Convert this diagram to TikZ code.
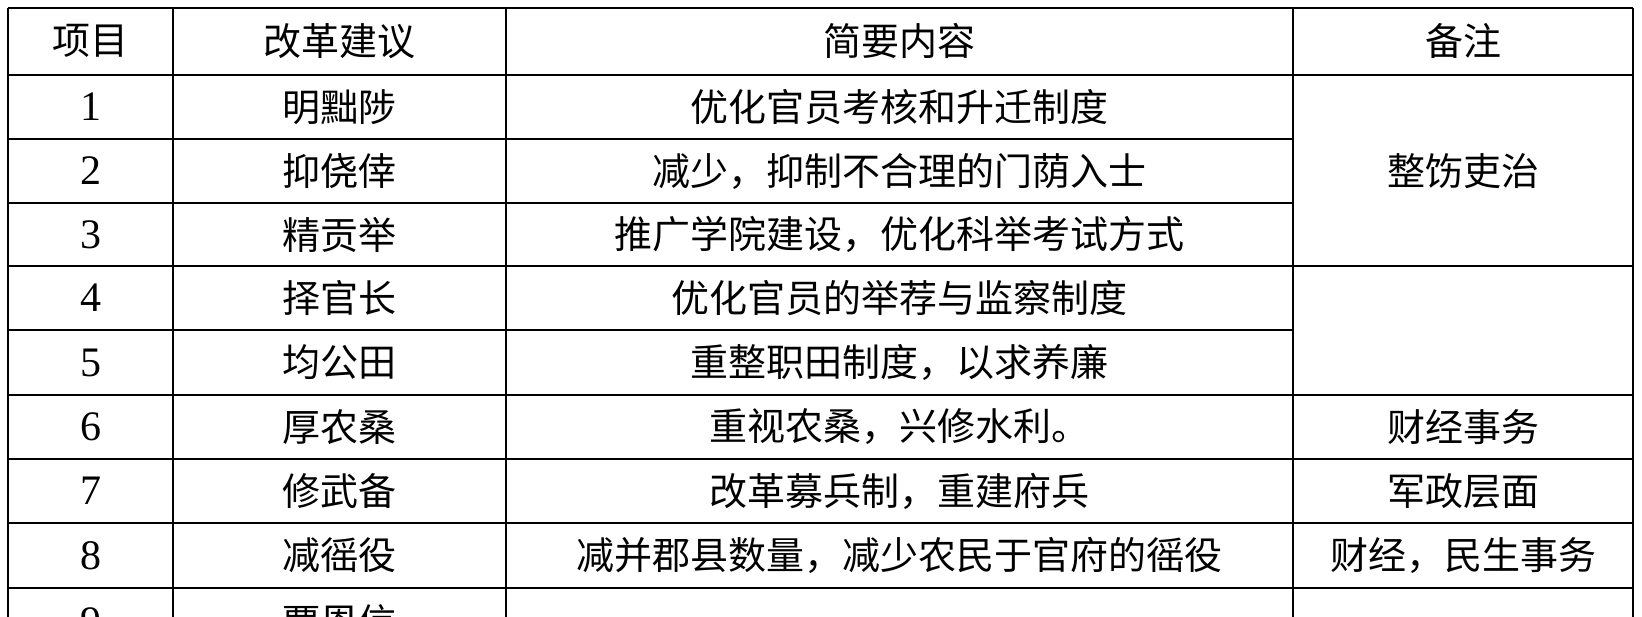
\documentclass[tikz,border=0pt]{standalone}
\usepackage{fontspec}
\newfontfamily\cjk{Noto Sans CJK SC}[Scale=1]
\setmainfont{Liberation Serif}
\begin{document}
\begin{tikzpicture}[x=0.5pt,y=-0.5pt,
  cell/.style={font=\fontsize{19}{22}\selectfont\cjk,inner sep=0pt,anchor=center},
  num/.style={font=\fontsize{21}{24}\selectfont\rmfamily,inner sep=0pt,anchor=center},
  grid/.style={line width=1.4pt,black}]
\useasboundingbox (0,0) rectangle (1642,616);
\fill[white] (0,0) rectangle (1642,616);
\begin{scope}
\clip (0,0) rectangle (1642,616);
% vertical lines
\draw[grid] (8,8) -- (8,660);
\draw[grid] (173,8) -- (173,660);
\draw[grid] (506,8) -- (506,660);
\draw[grid] (1293,8) -- (1293,660);
\draw[grid] (1633,8) -- (1633,660);
% horizontal lines
\draw[grid] (8,8) -- (1633,8);
\draw[grid] (8,75) -- (1633,75);
\draw[grid] (8,139) -- (1293,139);
\draw[grid] (8,203) -- (1293,203);
\draw[grid] (8,266) -- (1633,266);
\draw[grid] (8,330) -- (1293,330);
\draw[grid] (8,395) -- (1633,395);
\draw[grid] (8,459) -- (1633,459);
\draw[grid] (8,523) -- (1633,523);
\draw[grid] (8,588) -- (1633,588);
% header
\node[cell] (h1) at (90.5,41) {项目};
\node[cell] (h2) at (339.5,41) {改革建议};
\node[cell] (h3) at (899.5,41) {简要内容};
\node[cell] (h4) at (1463,41) {备注};
% rows
\node[num] (n1) at (90.5,107) {1};
\node[cell] (a1) at (339.5,107) {明黜陟};
\node[cell] (b1) at (899.5,107) {优化官员考核和升迁制度};
\node[num] (n2) at (90.5,171) {2};
\node[cell] (a2) at (339.5,171) {抑侥倖};
\node[cell] (b2) at (899.5,171) {减少，抑制不合理的门荫入士};
\node[num] (n3) at (90.5,234.5) {3};
\node[cell] (a3) at (339.5,234.5) {精贡举};
\node[cell] (b3) at (899.5,234.5) {推广学院建设，优化科举考试方式};
\node[cell] (c1) at (1463,171) {整饬吏治};
\node[num] (n4) at (90.5,298) {4};
\node[cell] (a4) at (339.5,298) {择官长};
\node[cell] (b4) at (899.5,298) {优化官员的举荐与监察制度};
\node[num] (n5) at (90.5,362.5) {5};
\node[cell] (a5) at (339.5,362.5) {均公田};
\node[cell] (b5) at (899.5,362.5) {重整职田制度，以求养廉};
\node[num] (n6) at (90.5,427) {6};
\node[cell] (a6) at (339.5,427) {厚农桑};
\node[cell] (b6) at (899.5,427) {重视农桑，兴修水利。};
\node[cell] (c6) at (1463,427) {财经事务};
\node[num] (n7) at (90.5,491) {7};
\node[cell] (a7) at (339.5,491) {修武备};
\node[cell] (b7) at (899.5,491) {改革募兵制，重建府兵};
\node[cell] (c7) at (1463,491) {军政层面};
\node[num] (n8) at (90.5,555.5) {8};
\node[cell] (a8) at (339.5,555.5) {减徭役};
\node[cell] (b8) at (899.5,555.5) {减并郡县数量，减少农民于官府的徭役};
\node[cell] (c8) at (1463,555.5) {财经，民生事务};
\node[num] (n9) at (90.5,622) {9};
\node[cell] (a9) at (339.5,622) {覃恩信};
\end{scope}
\end{tikzpicture}
\end{document}
